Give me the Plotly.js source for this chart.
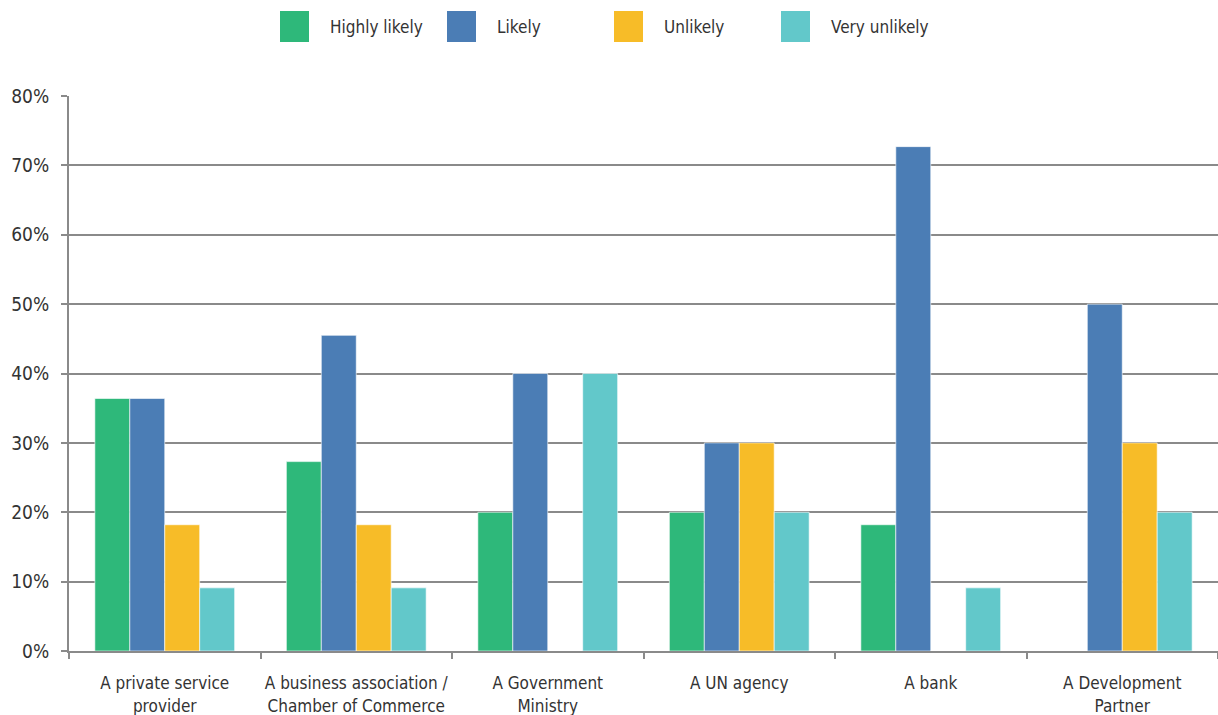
<!DOCTYPE html>
<html>
<head>
<meta charset="utf-8">
<script src="https://cdn.plot.ly/plotly-3.0.1.min.js"></script>
<style>html,body{margin:0;padding:0;background:#fff;}#chart{width:1218px;height:715px;}</style>
</head>
<body>
<div id="chart"></div>
<script>
const categories = ["A private service<br>provider", "A business association /<br>Chamber of Commerce", "A Government<br>Ministry", "A UN agency", "A bank", "A Development<br>Partner"];
const seriesNames = ["Highly likely", "Likely", "Unlikely", "Very unlikely"];
const highlyLikely = [0.364, 0.273, 0.20, 0.20, 0.182, 0];
const likely = [0.364, 0.455, 0.40, 0.30, 0.727, 0.50];
const unlikely = [0.182, 0.182, 0, 0.30, 0, 0.30];
const veryUnlikely = [0.091, 0.091, 0.40, 0.20, 0.091, 0.20];
const colors = ["#2eb87a", "#4b7db5", "#f7bc28", "#62c8ca"];
const yTicks = [0, 0.1, 0.2, 0.3, 0.4, 0.5, 0.6, 0.7, 0.8];

const FONT = '"DejaVu Sans Condensed", "Liberation Sans Narrow", "Roboto", sans-serif';
const values = [highlyLikely, likely, unlikely, veryUnlikely];
const traces = values.map((v, i) => ({
  type: 'bar', x: categories, y: v, name: seriesNames[i],
  marker: {color: colors[i], line: {color: 'rgba(255,255,255,0.6)', width: 1}},
  hoverinfo: 'skip', showlegend: false
}));

// custom legend (swatch + label)
const legendX0 = 280, legendStep = 167, W = 1218, H = 715;
const shapes = [], annotations = [];
seriesNames.forEach((n, i) => {
  const px = legendX0 + i * legendStep;
  shapes.push({type: 'rect', xref: 'paper', yref: 'paper', xsizemode: 'pixel', ysizemode: 'pixel',
    xanchor: (px - 69) / (W - 69), yanchor: 1 + (96 - 27) / (651 - 96),
    x0: 0, x1: 29, y0: -15, y1: 16, fillcolor: colors[i], line: {width: 0}});
  annotations.push({xref: 'paper', yref: 'paper', x: (px + 48 - 69) / (W - 69), y: 1 + (96 - 27) / (651 - 96),
    xanchor: 'left', yanchor: 'middle', text: n, showarrow: false,
    font: {family: FONT, size: 17, color: '#333333'}});
});

const layout = {
  width: W, height: H,
  margin: {l: 69, r: 0, t: 96, b: 64},
  paper_bgcolor: '#ffffff', plot_bgcolor: '#ffffff',
  barmode: 'group', bargap: 0.27, bargroupgap: 0,
  showlegend: false,
  font: {family: FONT, size: 18, color: '#333333'},
  xaxis: {
    type: 'category', tickson: 'boundaries', ticks: 'outside', ticklen: 6, tickwidth: 2, tickcolor: '#8a8a8a',
    showline: true, linecolor: '#8a8a8a', linewidth: 2, showgrid: false, tickangle: 0,
    tickfont: {family: FONT, size: 17, color: '#333333'}, automargin: false, ticklabelstandoff: 16
  },
  yaxis: {
    range: [0, 0.8], tickvals: yTicks, tickformat: '.0%', ticks: 'outside', ticklen: 6, tickwidth: 2, tickcolor: '#8a8a8a',
    showline: true, linecolor: '#8a8a8a', linewidth: 2, showgrid: true, gridcolor: '#8a8a8a', gridwidth: 2,
    zeroline: false, ticklabelstandoff: 8,
    tickfont: {family: FONT, size: 19, color: '#333333'}, automargin: false
  },
  shapes: shapes, annotations: annotations
};
Plotly.newPlot('chart', traces, layout, {displayModeBar: false, staticPlot: true});
</script>
</body>
</html>
